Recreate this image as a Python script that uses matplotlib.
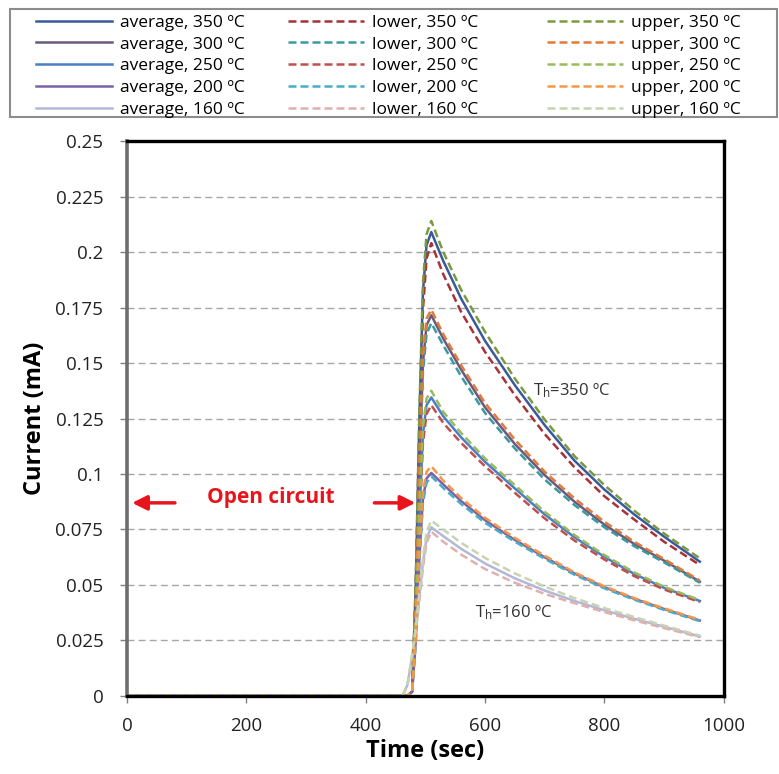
import numpy as np
import matplotlib
matplotlib.use("Agg")
import matplotlib.pyplot as plt
from matplotlib.patches import Rectangle

plt.rcParams['font.family'] = ['Open Sans', 'DejaVu Sans']
plt.rcParams['mathtext.default'] = 'regular'

# ---- data ----
time_s = [0, 462, 470, 478, 484, 490, 496, 502, 510, 530, 560, 600, 650, 700, 750, 800, 850, 900, 960]
temps = [350, 300, 250, 200, 160]

avg_350 = [0, 0, 0, 0.002, 0.050, 0.125, 0.182, 0.203, 0.209, 0.196, 0.179, 0.160, 0.140, 0.122, 0.106, 0.093, 0.0818, 0.0718, 0.0605]
avg_300 = [0, 0, 0, 0.002, 0.040, 0.102, 0.150, 0.167, 0.1715, 0.161, 0.147, 0.130, 0.1135, 0.0995, 0.0875, 0.0772, 0.0685, 0.061, 0.0515]
avg_250 = [0, 0, 0, 0.002, 0.032, 0.080, 0.118, 0.131, 0.1345, 0.126, 0.1165, 0.1055, 0.0935, 0.0818, 0.0715, 0.0627, 0.055, 0.0487, 0.0428]
avg_200 = [0, 0, 0, 0.002, 0.025, 0.062, 0.089, 0.098, 0.1005, 0.0953, 0.0878, 0.0792, 0.0703, 0.0625, 0.0552, 0.049, 0.0438, 0.0392, 0.034]
avg_160 = [0, 0, 0.005, 0.018, 0.030, 0.045, 0.060, 0.071, 0.076, 0.072, 0.0663, 0.0597, 0.053, 0.0475, 0.0428, 0.0386, 0.0348, 0.0312, 0.0268]

lower_350 = [0, 0, 0, 0.002, 0.048, 0.118, 0.174, 0.197, 0.204, 0.190, 0.173, 0.155, 0.1355, 0.118, 0.103, 0.090, 0.0795, 0.0695, 0.059]
lower_300 = [0, 0, 0, 0.002, 0.039, 0.099, 0.146, 0.163, 0.168, 0.158, 0.144, 0.1275, 0.1115, 0.0975, 0.086, 0.076, 0.0675, 0.0602, 0.051]
lower_250 = [0, 0, 0, 0.002, 0.030, 0.077, 0.114, 0.127, 0.131, 0.123, 0.114, 0.1035, 0.0915, 0.080, 0.070, 0.0615, 0.054, 0.048, 0.0423]
lower_200 = [0, 0, 0, 0.002, 0.024, 0.060, 0.087, 0.096, 0.099, 0.0937, 0.0865, 0.078, 0.0695, 0.0618, 0.0546, 0.0485, 0.0434, 0.0388, 0.0337]
lower_160 = [0, 0, 0.005, 0.017, 0.029, 0.043, 0.058, 0.069, 0.074, 0.0695, 0.0637, 0.0572, 0.051, 0.046, 0.0418, 0.0378, 0.0341, 0.0306, 0.0265]

upper_350 = [0, 0, 0, 0.002, 0.052, 0.128, 0.186, 0.208, 0.214, 0.200, 0.183, 0.164, 0.143, 0.1245, 0.108, 0.095, 0.0835, 0.0732, 0.062]
upper_300 = [0, 0, 0, 0.002, 0.041, 0.104, 0.153, 0.170, 0.174, 0.163, 0.149, 0.132, 0.1155, 0.101, 0.089, 0.0785, 0.0695, 0.0617, 0.052]
upper_250 = [0, 0, 0, 0.002, 0.033, 0.082, 0.121, 0.134, 0.1375, 0.128, 0.1185, 0.107, 0.095, 0.083, 0.0725, 0.0635, 0.0557, 0.0492, 0.0432]
upper_200 = [0, 0, 0, 0.002, 0.026, 0.064, 0.092, 0.101, 0.1035, 0.097, 0.0892, 0.0803, 0.0712, 0.0632, 0.0557, 0.0494, 0.0441, 0.0395, 0.0343]
upper_160 = [0, 0, 0.005, 0.019, 0.031, 0.047, 0.062, 0.074, 0.079, 0.075, 0.069, 0.0622, 0.0552, 0.0493, 0.0441, 0.0396, 0.0356, 0.0317, 0.0272]

avg = [avg_350, avg_300, avg_250, avg_200, avg_160]
lower = [lower_350, lower_300, lower_250, lower_200, lower_160]
upper = [upper_350, upper_300, upper_250, upper_200, upper_160]

yticks = [0, 0.025, 0.05, 0.075, 0.1, 0.125, 0.15, 0.175, 0.2, 0.225, 0.25]
ytick_labels = ['0', '0.025', '0.05', '0.075', '0.1', '0.125', '0.15', '0.175', '0.2', '0.225', '0.25']
xticks = [0, 200, 400, 600, 800, 1000]

avg_colors = ['#3b5a9a', '#6a5a7e', '#4a7fc4', '#7a62a8', '#b4b8d8']
lower_colors = ['#a83236', '#3a9aa0', '#c0504d', '#4bacc6', '#e0b0b0']
upper_colors = ['#7a9a40', '#e07b39', '#9bbb59', '#f79646', '#c8d4b0']

fig = plt.figure(figsize=(7.79, 7.74), dpi=100)
ax = fig.add_axes([0.163, 0.1008, 0.766, 0.717])

dash = (3.2, 1.6)
lw = 1.8
h_avg, h_low, h_up = [], [], []
for i, T in enumerate(temps):
    l, = ax.plot(time_s, avg[i], color=avg_colors[i], lw=lw, label=f'average, {T} ºC')
    h_avg.append(l)
for i, T in enumerate(temps):
    l, = ax.plot(time_s, lower[i], color=lower_colors[i], lw=lw, dashes=dash, label=f'lower, {T} ºC')
    h_low.append(l)
for i, T in enumerate(temps):
    l, = ax.plot(time_s, upper[i], color=upper_colors[i], lw=lw, dashes=dash, label=f'upper, {T} ºC')
    h_up.append(l)

ax.set_xlim(0, 1000)
ax.set_ylim(0, 0.25)
ax.set_yticks(yticks)
ax.set_yticklabels(ytick_labels)
ax.set_xticks(xticks)
ax.tick_params(axis='both', direction='out', length=5, width=1, color='#808080',
               labelsize=13.5, labelcolor='#222222')
ax.tick_params(axis='y', pad=12)
ax.tick_params(axis='x', pad=10)
ax.yaxis.grid(True, color='#a6a6a6', lw=1, dashes=(5, 3))
ax.set_axisbelow(True)

for s in ['top', 'right', 'bottom']:
    ax.spines[s].set_color('black')
    ax.spines[s].set_linewidth(2.4)
ax.spines['left'].set_color('#6e6e6e')
ax.spines['left'].set_linewidth(2.6)

ax.set_xlabel('Time (sec)', fontsize=17, fontweight='bold', labelpad=3)
ax.set_ylabel('Current (mA)', fontsize=17, fontweight='bold', labelpad=6)

# annotations
red = '#e8141c'
ax.text(241, 0.0895, 'Open circuit', color=red, fontsize=15, fontweight='bold',
        ha='center', va='center')
ax.annotate('', xy=(4, 0.087), xytext=(85, 0.087),
            arrowprops=dict(arrowstyle='-|>', color=red, lw=2.5, mutation_scale=22))
ax.annotate('', xy=(488, 0.087), xytext=(410, 0.087),
            arrowprops=dict(arrowstyle='-|>', color=red, lw=2.5, mutation_scale=22))
ax.text(680, 0.1374, 'T$_{h}$=350 ºC', fontsize=12, color='#333333', va='center')
ax.text(583, 0.0374, 'T$_{h}$=160 ºC', fontsize=12, color='#333333', va='center')

# legend: three columns inside one gray box
fig.patches.append(Rectangle((10 / 779, 1 - 117 / 774), 767 / 779, 108 / 774,
                             transform=fig.transFigure, fill=False,
                             edgecolor='#8c8c8c', lw=1.5))
col_x = [22 / 779, 274 / 779, 533 / 779]
for handles, x0 in zip([h_avg, h_low, h_up], col_x):
    fig.legend(handles=handles, loc='upper left', bbox_to_anchor=(x0, 0.999),
               frameon=False, fontsize=12.5, handlelength=4.4, handletextpad=0.45,
               labelspacing=0.32, borderpad=0.3)

fig.savefig('out.png', dpi=100)
